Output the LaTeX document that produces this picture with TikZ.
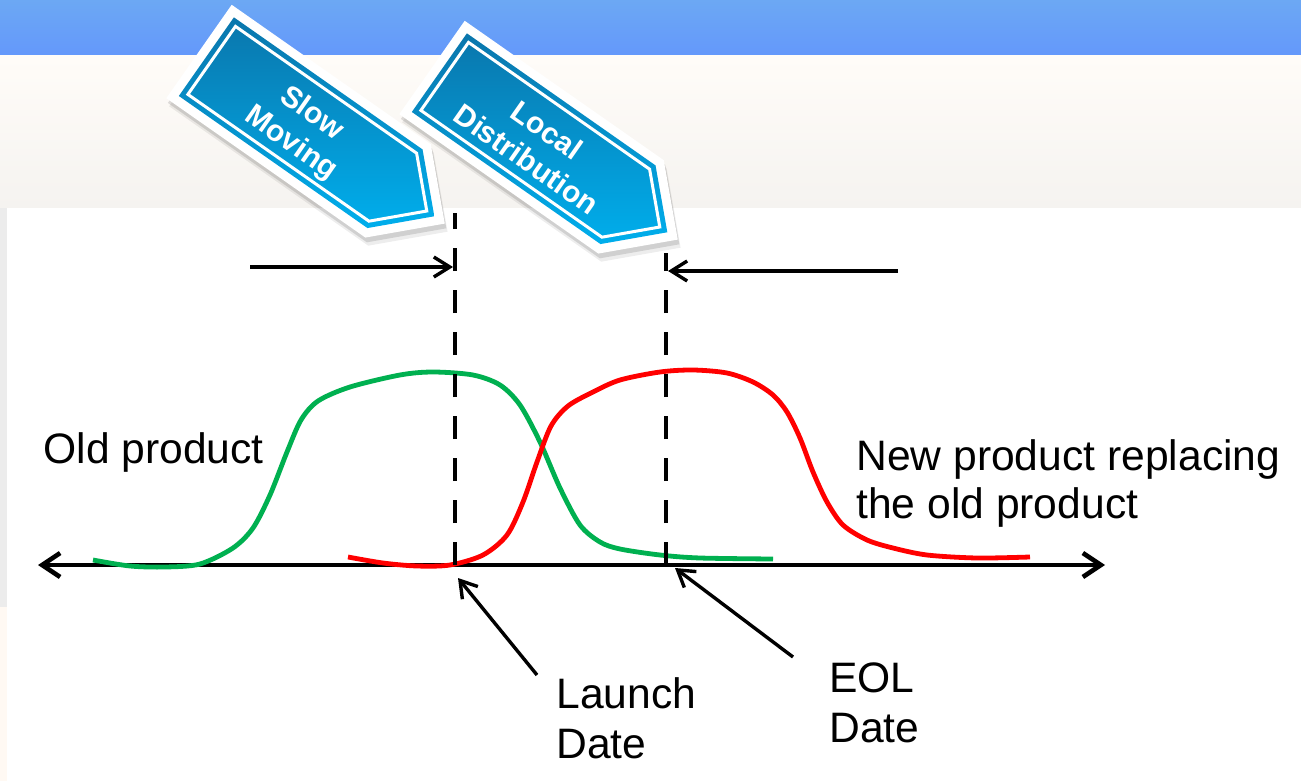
\documentclass[tikz,border=0pt]{standalone}
\usepackage{fontspec}
\setmainfont{Liberation Sans}
\usetikzlibrary{arrows.meta}
\definecolor{bandtop}{HTML}{6CA8F4}
\definecolor{bandbot}{HTML}{6498FB}
\definecolor{creamtop}{HTML}{FFFCF8}
\definecolor{creambot}{HTML}{F5F3F0}
\definecolor{stripgray}{HTML}{ECECEC}
\definecolor{stripcream}{HTML}{FFF9F3}
\definecolor{tagdark}{HTML}{0A76AC}
\definecolor{taglight}{HTML}{00AEEC}
\definecolor{oldgreen}{HTML}{00B050}
\definecolor{newred}{HTML}{FF0000}
\newcommand\tagpath[1]{(#1,{57-#1}) -- ({243-0.4142*#1},{57-#1}) -- ({300-1.4142*#1},0) -- ({243-0.4142*#1},{#1-57}) -- (#1,{#1-57}) -- cycle}
\tikzset{
  lbl/.style={font=\fontsize{21.3}{24}\selectfont, inner sep=0pt, anchor=base west, text=black},
  tagtext/.style={text=white, font=\bfseries\fontsize{15}{18}\selectfont, align=center, rotate=-35, inner sep=0pt},
  axisline/.style={line width=2.3pt, {Straight Barb[length=9pt,width=12pt]}-{Straight Barb[length=9pt,width=12pt]}},
  hdim/.style={line width=1.7pt, -{Straight Barb[length=8pt,width=10pt]}},
  ptr/.style={line width=1.7pt, -{Straight Barb[length=8pt,width=10pt]}},
  dateline/.style={line width=2.2pt, dash pattern=on 11.5pt off 9.5pt},
  curve/.style={line width=2.4pt},
}
\begin{document}
\begin{tikzpicture}[x=0.5pt,y=0.5pt]
\useasboundingbox (0,0) rectangle (1301,-781);
% background
\shade[top color=bandtop, bottom color=bandbot] (0,0) rectangle (1301,-56);
\shade[top color=creamtop, bottom color=creambot] (0,-56) rectangle (1301,-208);
\fill[white] (7,-208) rectangle (1301,-781);
\fill[stripgray] (0,-208) rectangle (7,-607);
\fill[stripcream] (0,-607) rectangle (7,-781);

% tags
\begin{scope}[shift={(199,-51.5)}, rotate=-35]
  \begin{scope}[shift={(7,-5)}]\fill[black, opacity=0.07] \tagpath{0};\end{scope}
  \begin{scope}[shift={(4,-3)}]\fill[black, opacity=0.12] \tagpath{0};\end{scope}
  \fill[white] \tagpath{0};
  \shade[top color=tagdark, bottom color=taglight] \tagpath{9};
  \draw[white, line width=1.5pt] \tagpath{15.5};
  \node[tagtext] (slowtxt) at (128,-5) {Slow\\Moving};
\end{scope}
\begin{scope}[shift={(432,-67.5)}, rotate=-35]
  \begin{scope}[shift={(7,-5)}]\fill[black, opacity=0.07] \tagpath{0};\end{scope}
  \begin{scope}[shift={(4,-3)}]\fill[black, opacity=0.12] \tagpath{0};\end{scope}
  \fill[white] \tagpath{0};
  \shade[top color=tagdark, bottom color=taglight] \tagpath{9};
  \draw[white, line width=1.5pt] \tagpath{15.5};
  \node[tagtext] (localtxt) at (130,-3) {Local\\Distribution};
\end{scope}

% coordinates
\coordinate (axL) at (38,-565);
\coordinate (axR) at (1105,-565);
\coordinate (launchBot) at (455,-565);
\coordinate (launchTop) at (455,-213);
\coordinate (eolBot) at (666,-565);
\coordinate (eolTop) at (666,-253);
\coordinate (slowFrom) at (250,-267);
\coordinate (slowTo) at (453,-267);
\coordinate (localFrom) at (898,-271);
\coordinate (localTo) at (668,-271);
\coordinate (launchPtrFrom) at (537,-675);
\coordinate (launchPtrTo) at (458,-578);
\coordinate (eolPtrFrom) at (793,-657);
\coordinate (eolPtrTo) at (675,-568);

% axis
\draw[axisline] (axL) -- (axR);

% curves
\draw[curve, oldgreen] plot[smooth, tension=0.5] coordinates {(93,-560) (130,-566) (165,-567) (200,-564) (233,-548) (253,-528) (270,-495) (287,-452) (301,-420) (318,-401) (350,-387) (400,-375) (433,-372) (473,-375) (500,-385) (520,-405) (540,-442) (560,-488) (580,-525) (600,-542) (620,-549) (660,-555) (700,-558) (773,-559)};
\draw[curve, newred] plot[smooth, tension=0.5] coordinates {(348,-557) (383,-563) (417,-566) (450,-565) (483,-555) (507,-535) (523,-502) (537,-462) (551,-426) (568,-406) (593,-392) (620,-380) (660,-372) (693,-370) (727,-373) (753,-382) (773,-395) (787,-412) (800,-438) (813,-472) (827,-502) (843,-525) (867,-540) (893,-548) (927,-555) (977,-558) (1030,-557)};

% date lines
\draw[dateline] (launchBot) -- (launchTop);
\draw[dateline] (eolBot) -- (eolTop);

% horizontal arrows
\draw[hdim] (slowFrom) -- (slowTo);
\draw[hdim] (localFrom) -- (localTo);

% pointers
\draw[ptr] (launchPtrFrom) -- (launchPtrTo);
\draw[ptr] (eolPtrFrom) -- (eolPtrTo);

% labels
\node[lbl] (oldtxt) at (43,-463) {Old product};
\node[lbl] (newA) at (856,-470) {New product replacing};
\node[lbl] (newB) at (856,-518) {the old product};
\node[lbl] (launchA) at (556,-708) {Launch};
\node[lbl] (launchB) at (556,-758) {Date};
\node[lbl] (eolA) at (829,-692) {EOL};
\node[lbl] (eolB) at (829,-742) {Date};
\end{tikzpicture}
\end{document}
